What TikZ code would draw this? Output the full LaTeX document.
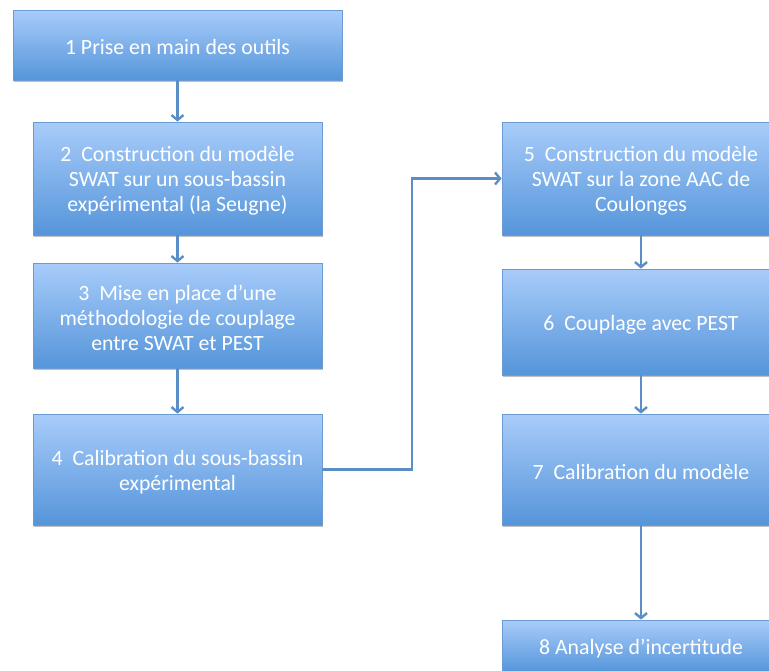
\documentclass[tikz,border=0pt]{standalone}
\usepackage{fontspec}
\setmainfont{Carlito}
\usetikzlibrary{arrows.meta,shadows}
\definecolor{boxtop}{HTML}{A8CCFA}
\definecolor{boxbot}{HTML}{5595DA}
\definecolor{boxline}{HTML}{6C9BD2}
\definecolor{arrcol}{HTML}{5B8DC7}
\tikzset{
  stepbox/.style={rectangle, draw=boxline, line width=0.8pt,
    top color=boxtop, bottom color=boxbot,
    inner sep=0pt,
    drop shadow={shadow xshift=1pt, shadow yshift=-2pt, opacity=0.25, fill=black},
    label={[steptext]center:#1}},
  steptext/.style={text=white, align=center, inner sep=0pt, yshift=-2.5pt,
    font=\fontsize{21.8}{25}\selectfont},
  arr/.style={draw=arrcol, line width=2.4pt, -{Straight Barb[length=5pt,width=12pt]}}
}
\begin{document}
\begin{tikzpicture}[x=1pt,y=-1pt]
\useasboundingbox (0,0) rectangle (769,670);
\clip (0,0) rectangle (769,670);
\node[stepbox={1 Prise en main des outils}, minimum width=329pt, minimum height=70pt] (b1) at (177.5,45) {};
\node[stepbox={2~ Construction du modèle\\SWAT sur un sous-bassin\\expérimental (la Seugne)}, minimum width=289pt, minimum height=113pt] (b2) at (177.5,178.5) {};
\node[stepbox={3~ Mise en place d’une\\méthodologie de couplage\\entre SWAT et PEST}, minimum width=289pt, minimum height=105pt] (b3) at (177.5,315.5) {};
\node[stepbox={4~ Calibration du sous-bassin\\expérimental}, minimum width=289pt, minimum height=111pt] (b4) at (177.5,469.5) {};
\node[stepbox={5~ Construction du modèle\\SWAT sur la zone AAC de\\Coulonges}, minimum width=278pt, minimum height=113pt] (b5) at (641,178.5) {};
\node[stepbox={6~ Couplage avec PEST}, minimum width=278pt, minimum height=106pt] (b6) at (641,322) {};
\node[stepbox={7~ Calibration du modèle}, minimum width=278pt, minimum height=111pt] (b7) at (641,469.5) {};
\node[stepbox={8 Analyse d’incertitude}, minimum width=278pt, minimum height=52pt] (b8) at (641,646) {};
\draw[arr] (b1.south) -- (b2.north);
\draw[arr] (b2.south) -- (b3.north);
\draw[arr] (b3.south) -- (b4.north);
\draw[arr] (b5.south) -- (b6.north);
\draw[arr] (b6.south) -- (b7.north);
\draw[arr] (b7.south) -- (b8.north);
\coordinate (bend) at (412,469.5);
\draw[arr] (b4.east) -- (bend) |- (b5.west);
\end{tikzpicture}
\end{document}
